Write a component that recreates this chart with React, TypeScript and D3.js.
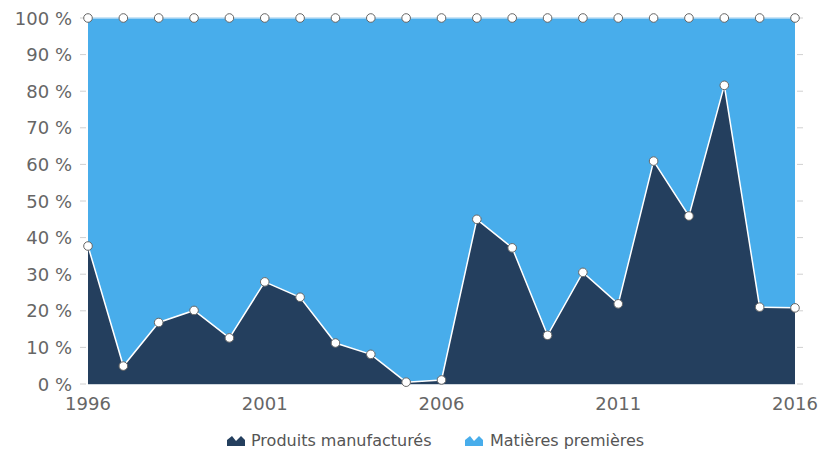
import React from "react";
import * as d3 from "d3";

const years = d3.range(1996, 2017);
const manufactures = [37.7, 4.9, 16.8, 20.1, 12.6, 27.9, 23.7, 11.2, 8.1, 0.5, 1.1, 45.0, 37.2, 13.3, 30.5, 21.9, 60.9, 45.9, 81.6, 21.0, 20.8];
const matieres = manufactures.map((v) => 100 - v);
const yTicks = [0, 10, 20, 30, 40, 50, 60, 70, 80, 90, 100];
const xTicks = [1996, 2001, 2006, 2011, 2016];
const seriesNames = ["Produits manufacturés", "Matières premières"];
const colors = ["#243f5e", "#48adeb"];

const W = 819;
const H = 451;
const left = 88;
const right = 795;
const top = 18;
const bottom = 384;
const font = "'DejaVu Sans', Verdana, sans-serif";

export default function App() {
  const x = d3.scaleLinear().domain([1996, 2016]).range([left, right]);
  const y = d3.scaleLinear().domain([0, 100]).range([bottom, top]);
  const data = years.map((yr, i) => ({ yr, a: manufactures[i], b: matieres[i] }));

  const areaA = d3.area<any>().x((d) => x(d.yr)).y0(y(0)).y1((d) => y(d.a))(data) || "";
  const areaB = d3.area<any>().x((d) => x(d.yr)).y0((d) => y(d.a)).y1((d) => y(d.a + d.b))(data) || "";
  const lineA = d3.line<any>().x((d) => x(d.yr)).y((d) => y(d.a))(data) || "";
  const lineB = d3.line<any>().x((d) => x(d.yr)).y((d) => y(d.a + d.b))(data) || "";

  const icon = (cx: number, color: string) => (
    <path d={`M${cx},446 L${cx},440 L${cx + 5},436 L${cx + 9},441 L${cx + 14},436 L${cx + 18},440 L${cx + 18},446 Z`} fill={color} />
  );

  return (
    <svg width={W} height={H} style={{ position: "absolute", left: 0, top: 0, background: "#fff" }}>
      <rect width={W} height={H} fill="#fff" />
      <path d={areaB} fill={colors[1]} />
      <path d={areaA} fill={colors[0]} />
      <path d={lineB} fill="none" stroke="#b8dcf5" strokeWidth={1.5} />
      <path d={lineA} fill="none" stroke="#ffffff" strokeWidth={1.5} />
      <line x1={left} x2={right} y1={bottom + 0.5} y2={bottom + 0.5} stroke="#cfd6dd" strokeWidth={1} />
      {yTicks.map((t) => (
        <g key={t}>
          <line x1={80} x2={86} y1={y(t)} y2={y(t)} stroke="#d0d0d0" strokeWidth={1} />
          <line x1={797} x2={803} y1={y(t)} y2={y(t)} stroke="#d0d0d0" strokeWidth={1} />
          <text x={72} y={y(t) + 6.5} textAnchor="end" fontFamily={font} fontSize={18} fill="#666">{`${t} %`}</text>
        </g>
      ))}
      {xTicks.map((t) => (
        <text key={t} x={x(t)} y={410} textAnchor="middle" fontFamily={font} fontSize={18} fill="#666">{t}</text>
      ))}
      {data.map((d) => (
        <g key={d.yr}>
          <circle cx={x(d.yr)} cy={y(d.a + d.b)} r={4.3} fill="#fff" stroke="#666" strokeWidth={1} />
          <circle cx={x(d.yr)} cy={y(d.a)} r={4.3} fill="#fff" stroke="#666" strokeWidth={1} />
        </g>
      ))}
      {icon(227, colors[0])}
      <text x={251} y={446} fontFamily={font} fontSize={16} fill="#555">{seriesNames[0]}</text>
      {icon(465, colors[1])}
      <text x={490} y={446} fontFamily={font} fontSize={16} fill="#555">{seriesNames[1]}</text>
    </svg>
  );
}
